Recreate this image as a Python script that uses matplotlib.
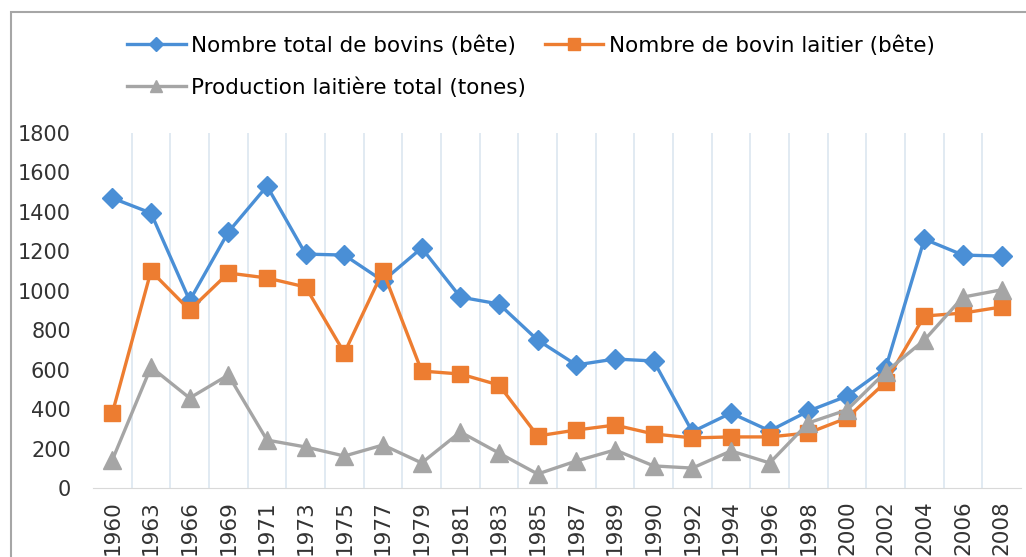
import matplotlib.pyplot as plt
from matplotlib.patches import Rectangle
from matplotlib.ticker import MultipleLocator

years = ["1960", "1963", "1966", "1969", "1971", "1973", "1975", "1977", "1979",
         "1981", "1983", "1985", "1987", "1989", "1990", "1992", "1994", "1996",
         "1998", "2000", "2002", "2004", "2006", "2008"]

bovins_total = [1470, 1394, 950, 1298, 1531, 1186, 1181, 1050, 1217, 968, 933, 750,
                624, 654, 644, 285, 380, 290, 390, 466, 608, 1262, 1181, 1176]
bovins_laitiers = [380, 1100, 902, 1090, 1065, 1019, 685, 1100, 593, 578, 522, 264,
                   294, 319, 274, 254, 259, 259, 279, 355, 537, 872, 887, 918]
production_lait = [142, 613, 456, 573, 243, 208, 162, 218, 127, 284, 177, 71,
                   137, 193, 112, 101, 188, 127, 330, 396, 588, 750, 968, 1005]

labels = ["Nombre total de bovins (bête)", "Nombre de bovin laitier (bête)",
          "Production laitière total (tones)"]
colors = ["#4a8fd6", "#ed7d31", "#a5a5a5"]

fig = plt.figure(figsize=(10.26, 5.57), dpi=100)
ax = fig.add_axes([93 / 1026, 69 / 557, 928 / 1026, 355 / 557])

x = range(len(years))
l1, = ax.plot(x, bovins_total, color=colors[0], lw=2.4, marker="D", ms=10, label=labels[0])
l2, = ax.plot(x, bovins_laitiers, color=colors[1], lw=2.4, marker="s", ms=12, label=labels[1])
l3, = ax.plot(x, production_lait, color=colors[2], lw=2.4, marker="^", ms=13, label=labels[2])

ax.set_xlim(-0.5, len(years) - 0.5)
ax.set_ylim(0, 1800)
ax.yaxis.set_major_locator(MultipleLocator(200))
ax.set_xticks(list(x))
ax.set_xticklabels(years, rotation=90, fontsize=15.5, color="#333333")
ax.set_xticks([i + 0.5 for i in range(len(years) - 1)], minor=True)
ax.tick_params(axis="x", which="both", length=0, pad=9)
ax.tick_params(axis="y", length=0, labelsize=15, labelcolor="#333333", pad=16)
ax.grid(axis="x", which="minor", color="#dce6f0", lw=1.2)
ax.grid(axis="x", which="major", visible=False)
ax.grid(axis="y", visible=False)
for s in ["top", "right", "left"]:
    ax.spines[s].set_visible(False)
ax.spines["bottom"].set_color("#d9d9d9")

# legend rows: first row two entries, second row one
fig.legend([l1, l3, l2], [labels[0], labels[2], labels[1]], ncol=2, frameon=False,
           loc="upper left", bbox_to_anchor=(108 / 1026, 1 - 16 / 557),
           prop={"size": 15.5}, handlelength=2.7, handletextpad=0.25,
           columnspacing=0.9, labelspacing=1.0, markerscale=0.7)

# chart frame, cut by image edges
fig.patches.append(Rectangle((11 / 1026, -0.1), 1.2, 1.1 - 12 / 557,
                             transform=fig.transFigure, fill=False,
                             edgecolor="#a6a6a6", lw=1.5))

fig.savefig("out.png", dpi=100)
